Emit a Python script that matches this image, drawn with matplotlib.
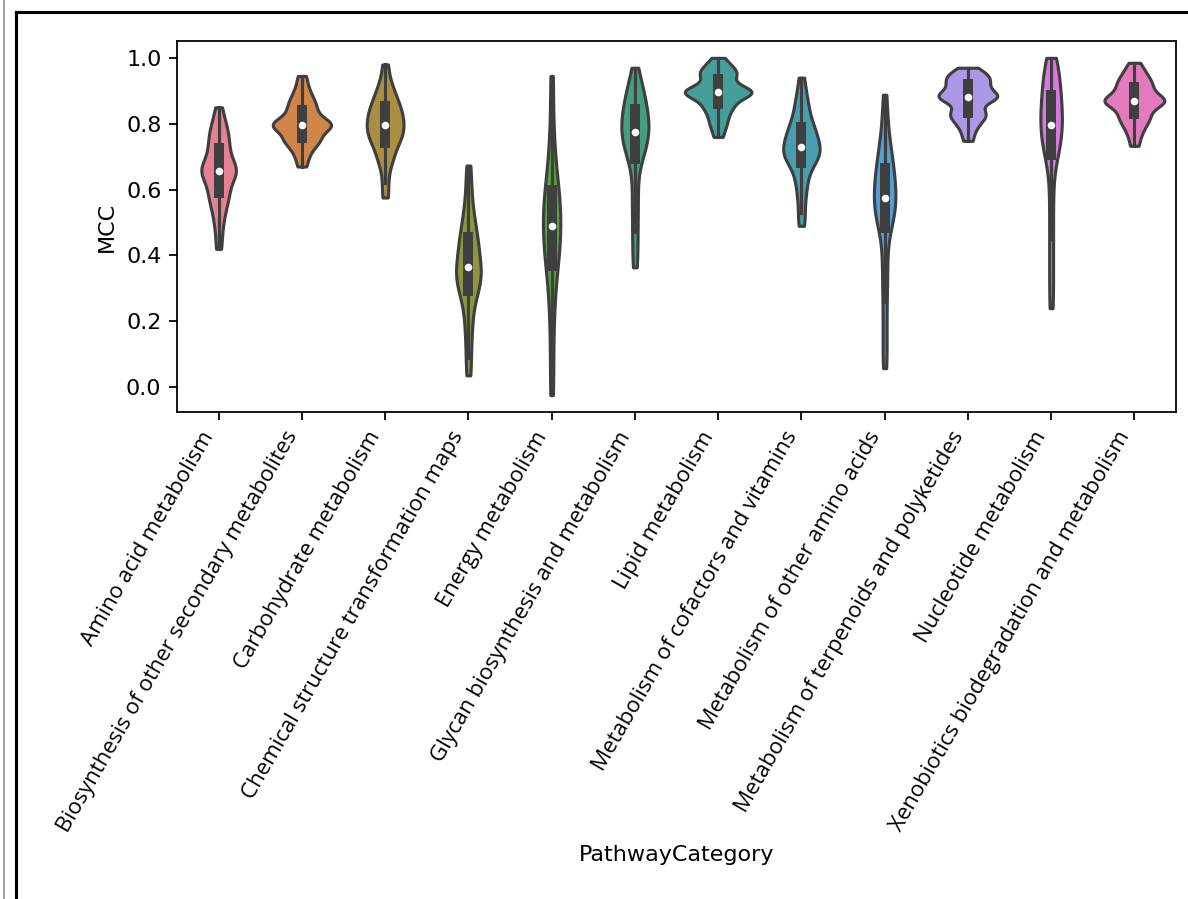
import numpy as np
import pandas as pd
import matplotlib
matplotlib.use("Agg")
import matplotlib.pyplot as plt
from matplotlib.lines import Line2D
import seaborn as sns


categories = [
    "Amino acid metabolism",
    "Biosynthesis of other secondary metabolites",
    "Carbohydrate metabolism",
    "Chemical structure transformation maps",
    "Energy metabolism",
    "Glycan biosynthesis and metabolism",
    "Lipid metabolism",
    "Metabolism of cofactors and vitamins",
    "Metabolism of other amino acids",
    "Metabolism of terpenoids and polyketides",
    "Nucleotide metabolism",
    "Xenobiotics biodegradation and metabolism",
]

# MCC values per pathway category (estimated from the violins)
amino_acid = [0.42, 0.465, 0.50, 0.525, 0.545, 0.562, 0.576, 0.587, 0.598, 0.612,
              0.625, 0.636, 0.645, 0.651, 0.656, 0.660, 0.665, 0.672, 0.681, 0.692,
              0.704, 0.717, 0.730, 0.742, 0.755, 0.768, 0.782, 0.797, 0.818, 0.85]
biosynthesis = [0.67, 0.695, 0.713, 0.727, 0.737, 0.745, 0.751, 0.756, 0.763, 0.772,
                0.780, 0.786, 0.791, 0.794, 0.796, 0.798, 0.801, 0.805, 0.811, 0.818,
                0.826, 0.835, 0.845, 0.853, 0.862, 0.872, 0.884, 0.898, 0.918, 0.945]
carbohydrate = [0.576, 0.62, 0.66, 0.685, 0.70, 0.715, 0.728, 0.740, 0.749, 0.757,
                0.765, 0.772, 0.779, 0.786, 0.794, 0.800, 0.808, 0.815, 0.823, 0.830,
                0.838, 0.846, 0.855, 0.864, 0.875, 0.886, 0.900, 0.916, 0.94, 0.98]
chemical = [0.036, 0.09, 0.14, 0.18, 0.215, 0.245, 0.268, 0.288, 0.299, 0.310,
            0.321, 0.331, 0.340, 0.350, 0.359, 0.370, 0.382, 0.394, 0.406, 0.419,
            0.432, 0.446, 0.460, 0.475, 0.493, 0.515, 0.54, 0.575, 0.62, 0.673]
energy = [-0.024, 0.06, 0.14, 0.21, 0.26, 0.30, 0.335, 0.362, 0.383, 0.400,
          0.417, 0.433, 0.450, 0.464, 0.481, 0.495, 0.510, 0.524, 0.539, 0.554,
          0.570, 0.586, 0.603, 0.625, 0.65, 0.68, 0.72, 0.77, 0.85, 0.945]
glycan = [0.364, 0.42, 0.47, 0.52, 0.565, 0.61, 0.655, 0.69, 0.705, 0.718,
          0.730, 0.741, 0.752, 0.761, 0.771, 0.780, 0.790, 0.798, 0.808, 0.817,
          0.827, 0.837, 0.848, 0.860, 0.872, 0.887, 0.900, 0.915, 0.935, 0.97]
lipid = [0.76, 0.785, 0.80, 0.815, 0.828, 0.84, 0.85, 0.857, 0.864, 0.874,
         0.881, 0.886, 0.890, 0.893, 0.895, 0.897, 0.899, 0.902, 0.906, 0.911,
         0.918, 0.928, 0.94, 0.947, 0.952, 0.958, 0.965, 0.973, 0.984, 1.0]
cofactors = [0.49, 0.53, 0.57, 0.60, 0.625, 0.645, 0.663, 0.679, 0.687, 0.694,
             0.701, 0.708, 0.714, 0.720, 0.727, 0.734, 0.742, 0.750, 0.758, 0.766,
             0.775, 0.784, 0.794, 0.806, 0.82, 0.836, 0.855, 0.875, 0.90, 0.94]
other_amino = [0.058, 0.12, 0.19, 0.26, 0.32, 0.37, 0.42, 0.48, 0.498, 0.511,
               0.523, 0.534, 0.546, 0.556, 0.568, 0.579, 0.591, 0.603, 0.616, 0.628,
               0.642, 0.655, 0.670, 0.686, 0.703, 0.722, 0.745, 0.78, 0.83, 0.888]
terpenoids = [0.748, 0.772, 0.79, 0.802, 0.812, 0.82, 0.827, 0.832, 0.838, 0.848,
              0.862, 0.870, 0.876, 0.879, 0.881, 0.883, 0.886, 0.890, 0.896, 0.903,
              0.910, 0.917, 0.923, 0.929, 0.935, 0.94, 0.946, 0.952, 0.96, 0.97]
nucleotide = [0.24, 0.31, 0.38, 0.45, 0.52, 0.59, 0.65, 0.70, 0.715, 0.728,
              0.742, 0.754, 0.767, 0.779, 0.791, 0.803, 0.815, 0.826, 0.838, 0.850,
              0.863, 0.876, 0.890, 0.905, 0.922, 0.938, 0.953, 0.967, 0.985, 1.0]
xenobiotics = [0.733, 0.76, 0.778, 0.792, 0.803, 0.812, 0.82, 0.828, 0.836, 0.845,
               0.853, 0.859, 0.864, 0.867, 0.869, 0.871, 0.874, 0.878, 0.884, 0.891,
               0.898, 0.906, 0.913, 0.92, 0.927, 0.935, 0.944, 0.954, 0.967, 0.985]

values = [amino_acid, biosynthesis, carbohydrate, chemical, energy, glycan,
          lipid, cofactors, other_amino, terpenoids, nucleotide, xenobiotics]

df = pd.DataFrame({
    "PathwayCategory": np.repeat(categories, [len(v) for v in values]),
    "MCC": np.concatenate(values),
})

fig = plt.figure(figsize=(1188 / 160, 899 / 160), dpi=160)
ax = fig.add_axes([177 / 1188, 1 - 412 / 899, (1176 - 177) / 1188, (412 - 41) / 899])

sns.violinplot(data=df, x="PathwayCategory", y="MCC", hue="PathwayCategory",
               order=categories, hue_order=categories,
               palette=sns.color_palette("husl", len(categories)),
               legend=False, cut=0, bw_adjust=0.55, density_norm="area",
               common_norm=True, width=0.8,
               linewidth=1.4, linecolor="#3f3f3f", inner="box",
               inner_kws=dict(box_width=4.5, whis_width=1.4, marker=".",
                              markersize=5, color="#3f3f3f"),
               ax=ax)

ax.set_xlabel("PathwayCategory")
ax.set_ylabel("MCC")
ax.set_xticks(range(len(categories)))
ax.set_xticklabels(categories, rotation=60, ha="right",
                   fontfamily="Open Sans", fontsize=10)

# screenshot frame around the figure
fig.add_artist(Line2D([4 / 1188, 4 / 1188], [0, 1], color="#8a8a8a", lw=0.7))
fig.add_artist(Line2D([16 / 1188, 16 / 1188], [0, 1 - 11.5 / 899], color="black", lw=1.4))
fig.add_artist(Line2D([16 / 1188, 1.0], [1 - 11.5 / 899, 1 - 11.5 / 899], color="black", lw=1.4))

fig.savefig("out.png", dpi=160)
